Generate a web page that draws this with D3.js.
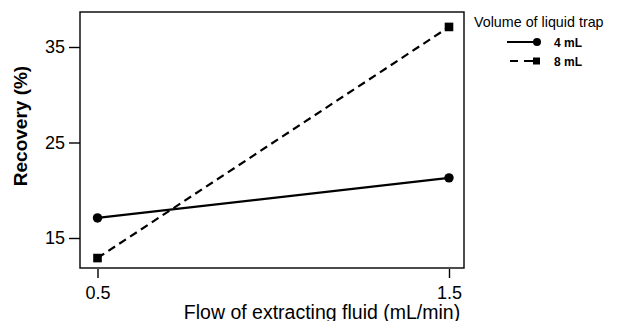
<!DOCTYPE html>
<html>
<head>
<meta charset="utf-8">
<script src="https://cdn.jsdelivr.net/npm/d3@7"></script>
<style>
  body { margin: 0; background: #fff; }
  svg { font-family: "Liberation Sans", Arial, sans-serif; }
</style>
</head>
<body>
<div id="chart"></div>
<script>
// Data
const flows = [0.5, 1.5];
const trap4 = [17.1, 21.3];
const trap8 = [12.9, 37.1];
const seriesNames = ["4 mL", "8 mL"];
const yTicks = [15, 25, 35];

const width = 621, height = 321;
const box = { left: 80, top: 12, right: 464, bottom: 268 };

const svg = d3.select("#chart").append("svg")
    .attr("width", width)
    .attr("height", height);

const x = d3.scaleLinear().domain([0.5, 1.5]).range([97.5, 449]);
const y = d3.scaleLinear().domain([15, 35]).range([238, 47]);

// frame
svg.append("rect")
    .attr("x", box.left).attr("y", box.top)
    .attr("width", box.right - box.left).attr("height", box.bottom - box.top)
    .attr("fill", "none").attr("stroke", "#000").attr("stroke-width", 1.4);

// axes
const yAxis = svg.append("g")
    .attr("transform", `translate(${box.left},0)`)
    .call(d3.axisLeft(y).tickValues(yTicks).tickSize(11).tickPadding(4));
const xAxis = svg.append("g")
    .attr("transform", `translate(0,${box.bottom + 1})`)
    .call(d3.axisBottom(x).tickValues(flows).tickSize(9).tickPadding(8).tickFormat(d3.format(".1f")));

[yAxis, xAxis].forEach(a => {
    a.select(".domain").remove();
    a.selectAll("line").attr("stroke", "#000").attr("stroke-width", 1.4);
    a.selectAll("text").attr("fill", "#000").style("font-size", "18px");
});

// titles
svg.append("text")
    .attr("transform", "translate(27,126) rotate(-90)")
    .attr("text-anchor", "middle")
    .style("font-size", "19px").style("font-weight", "bold")
    .text("Recovery (%)");

svg.append("text")
    .attr("x", 322).attr("y", 319)
    .attr("text-anchor", "middle")
    .style("font-size", "19.5px")
    .text("Flow of extracting fluid (mL/min)");

// lines
const line = d3.line().x(d => x(d[0])).y(d => y(d[1]));
const series = [
    { name: seriesNames[0], vals: trap4, dash: null, shape: "circle" },
    { name: seriesNames[1], vals: trap8, dash: "8,5", shape: "square" }
];

series.forEach(s => {
    const pts = flows.map((f, i) => [f, s.vals[i]]);
    svg.append("path")
        .attr("d", line(pts))
        .attr("fill", "none").attr("stroke", "#000").attr("stroke-width", 2.2)
        .attr("stroke-dasharray", s.dash);
    pts.forEach(p => drawMarker(x(p[0]), y(p[1]), s.shape));
});

function drawMarker(cx, cy, shape) {
    if (shape === "circle") {
        svg.append("circle").attr("cx", cx).attr("cy", cy).attr("r", 4.7).attr("fill", "#000");
    } else {
        svg.append("rect").attr("x", cx - 4.3).attr("y", cy - 4.3)
            .attr("width", 8.6).attr("height", 8.6).attr("fill", "#000");
    }
}

// legend
const legend = svg.append("g");
legend.append("text")
    .attr("x", 474).attr("y", 27)
    .style("font-size", "14.3px")
    .text("Volume of liquid trap");

series.forEach((s, i) => {
    const ly = 42 + i * 19;
    legend.append("line")
        .attr("x1", s.dash ? 510 : 507).attr("x2", 537).attr("y1", ly).attr("y2", ly)
        .attr("stroke", "#000").attr("stroke-width", 2)
        .attr("stroke-dasharray", s.dash ? "8,6,30" : null);
    if (s.shape === "circle") {
        legend.append("circle").attr("cx", 537).attr("cy", ly).attr("r", 4).attr("fill", "#000");
    } else {
        legend.append("rect").attr("x", 533).attr("y", ly - 3.5)
            .attr("width", 7).attr("height", 7).attr("fill", "#000");
    }
    legend.append("text")
        .attr("x", 554).attr("y", ly + 4.5)
        .style("font-size", "12px").style("font-weight", "bold")
        .text(s.name);
});
</script>
</body>
</html>
